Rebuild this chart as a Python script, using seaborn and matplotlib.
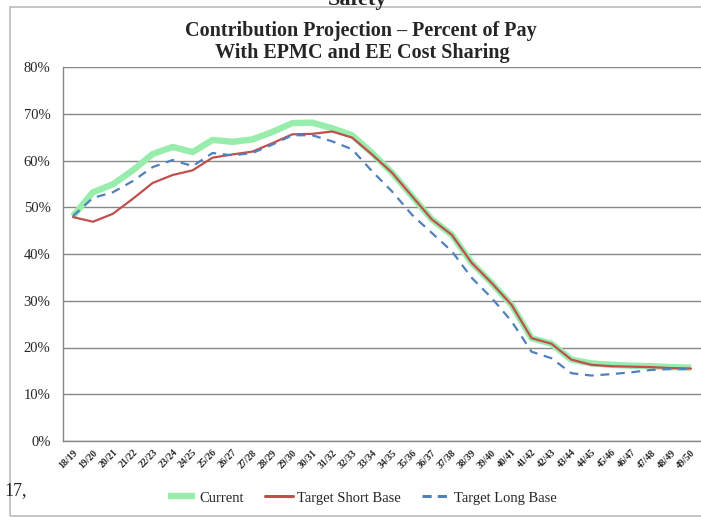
import numpy as np
import pandas as pd
import matplotlib
matplotlib.use("Agg")
import matplotlib.pyplot as plt
from matplotlib.patches import Rectangle
from matplotlib.lines import Line2D
import seaborn as sns

# fiscal years on the x axis
years = [f"{y % 100:02d}/{(y + 1) % 100:02d}" for y in range(2018, 2050)]

# percent of pay
current = [48.1, 53.2, 54.9, 57.9, 61.4, 62.9, 61.8, 64.4, 64.0, 64.5, 66.1, 68.0,
           68.1, 66.9, 65.4, 61.6, 57.4, 52.4, 47.4, 44.1, 38.1, 33.8, 29.1, 22.0,
           20.8, 17.4, 16.6, 16.3, 16.1, 16.0, 15.8, 15.7]
short_base = [47.9, 46.9, 48.6, 51.8, 55.2, 56.9, 57.9, 60.6, 61.3, 61.9, 63.7, 65.6,
              65.7, 66.2, 64.9, 61.3, 57.4, 52.4, 47.4, 44.1, 38.1, 33.8, 29.1, 22.0,
              20.8, 17.4, 16.3, 16.0, 15.9, 15.8, 15.6, 15.5]
long_base = [48.1, 52.0, 53.2, 55.6, 58.6, 60.1, 58.8, 61.6, 61.1, 61.6, 63.4, 65.4,
             65.4, 64.1, 62.4, 57.7, 53.4, 48.4, 44.5, 40.6, 34.9, 30.6, 25.6, 19.1,
             17.7, 14.5, 14.0, 14.3, 14.7, 15.2, 15.4, 15.4]

df = pd.DataFrame({"idx": np.arange(len(years)), "year": years,
                   "Current": current, "Target Short Base": short_base,
                   "Target Long Base": long_base})

sns.set_style("white")
plt.rcParams["font.family"] = ["Liberation Serif", "DejaVu Serif"]

fig = plt.figure(figsize=(7.01, 5.17), dpi=100)
ax = fig.add_axes([63 / 701, 1 - 441 / 517, 1 - 63 / 701, (441 - 67) / 517])

green = "#98EDAC"
red = "#C0504D"
blue = "#4F81BD"

sns.lineplot(data=df, x="idx", y="Current", ax=ax, color=green, linewidth=4.6,
             solid_capstyle="butt", zorder=3)
sns.lineplot(data=df, x="idx", y="Target Short Base", ax=ax, color=red,
             linewidth=1.6, zorder=4)
sns.lineplot(data=df, x="idx", y="Target Long Base", ax=ax, color=blue,
             linewidth=1.6, linestyle=(0, (4, 3)), zorder=5)

ax.set_xlim(-0.5, len(years) - 0.5)
ax.set_ylim(0, 80)
ax.set_yticks(np.arange(0, 81, 10))
ax.set_yticklabels([f"{v}%" for v in range(0, 81, 10)], fontsize=10.5)
ax.yaxis.grid(True, color="#888888", linewidth=1)
ax.set_axisbelow(True)
ax.tick_params(axis="y", length=0, pad=9)

ax.set_xticks(df["idx"])
ax.set_xticklabels(years, rotation=45, ha="right", rotation_mode="anchor",
                   fontsize=7, fontweight="bold")
ax.set_xticks(np.arange(-0.5, len(years), 1), minor=True)
ax.tick_params(axis="x", which="major", length=0, pad=5)
ax.tick_params(axis="x", which="minor", length=4, color="#888888", width=1)
ax.set_xlabel("")
ax.set_ylabel("")

for side in ["top", "right"]:
    ax.spines[side].set_visible(False)
for side in ["left", "bottom"]:
    ax.spines[side].set_color("#888888")
    ax.spines[side].set_linewidth(1)

# titles and outer frame
fig.text(361 / 701, 1 - 36 / 517, "Contribution Projection \u2013 Percent of Pay",
         ha="center", va="baseline", fontsize=14.5, fontweight="bold")
fig.text(362 / 701, 1 - 58 / 517, "With EPMC and EE Cost Sharing",
         ha="center", va="baseline", fontsize=14.5, fontweight="bold")
fig.text(358 / 701, 1 - 5 / 517, "Safety", ha="center", va="baseline",
         fontsize=16, fontweight="bold")
fig.patches.append(Rectangle((10 / 701, 1 / 517), 1, 1 - 8 / 517,
                             transform=fig.transFigure, fill=False,
                             edgecolor="#BBBBBB", linewidth=1.2))
fig.text(4 / 701, 1 - 495 / 517, "17,", ha="left", va="baseline", fontsize=13)

handles = [Line2D([], [], color=green, linewidth=4.6, solid_capstyle="butt"),
           Line2D([], [], color=red, linewidth=2.2),
           Line2D([], [], color=blue, linewidth=2.2, linestyle=(0, (3, 2)))]
fig.legend(handles, ["Current", "Target Short Base", "Target Long Base"],
           loc="center", bbox_to_anchor=(362 / 701, 1 - 498 / 517), ncol=3,
           frameon=False, fontsize=10.5, handlelength=1.9, handletextpad=0.25,
           columnspacing=1.5)

fig.savefig("out.png", dpi=100)
